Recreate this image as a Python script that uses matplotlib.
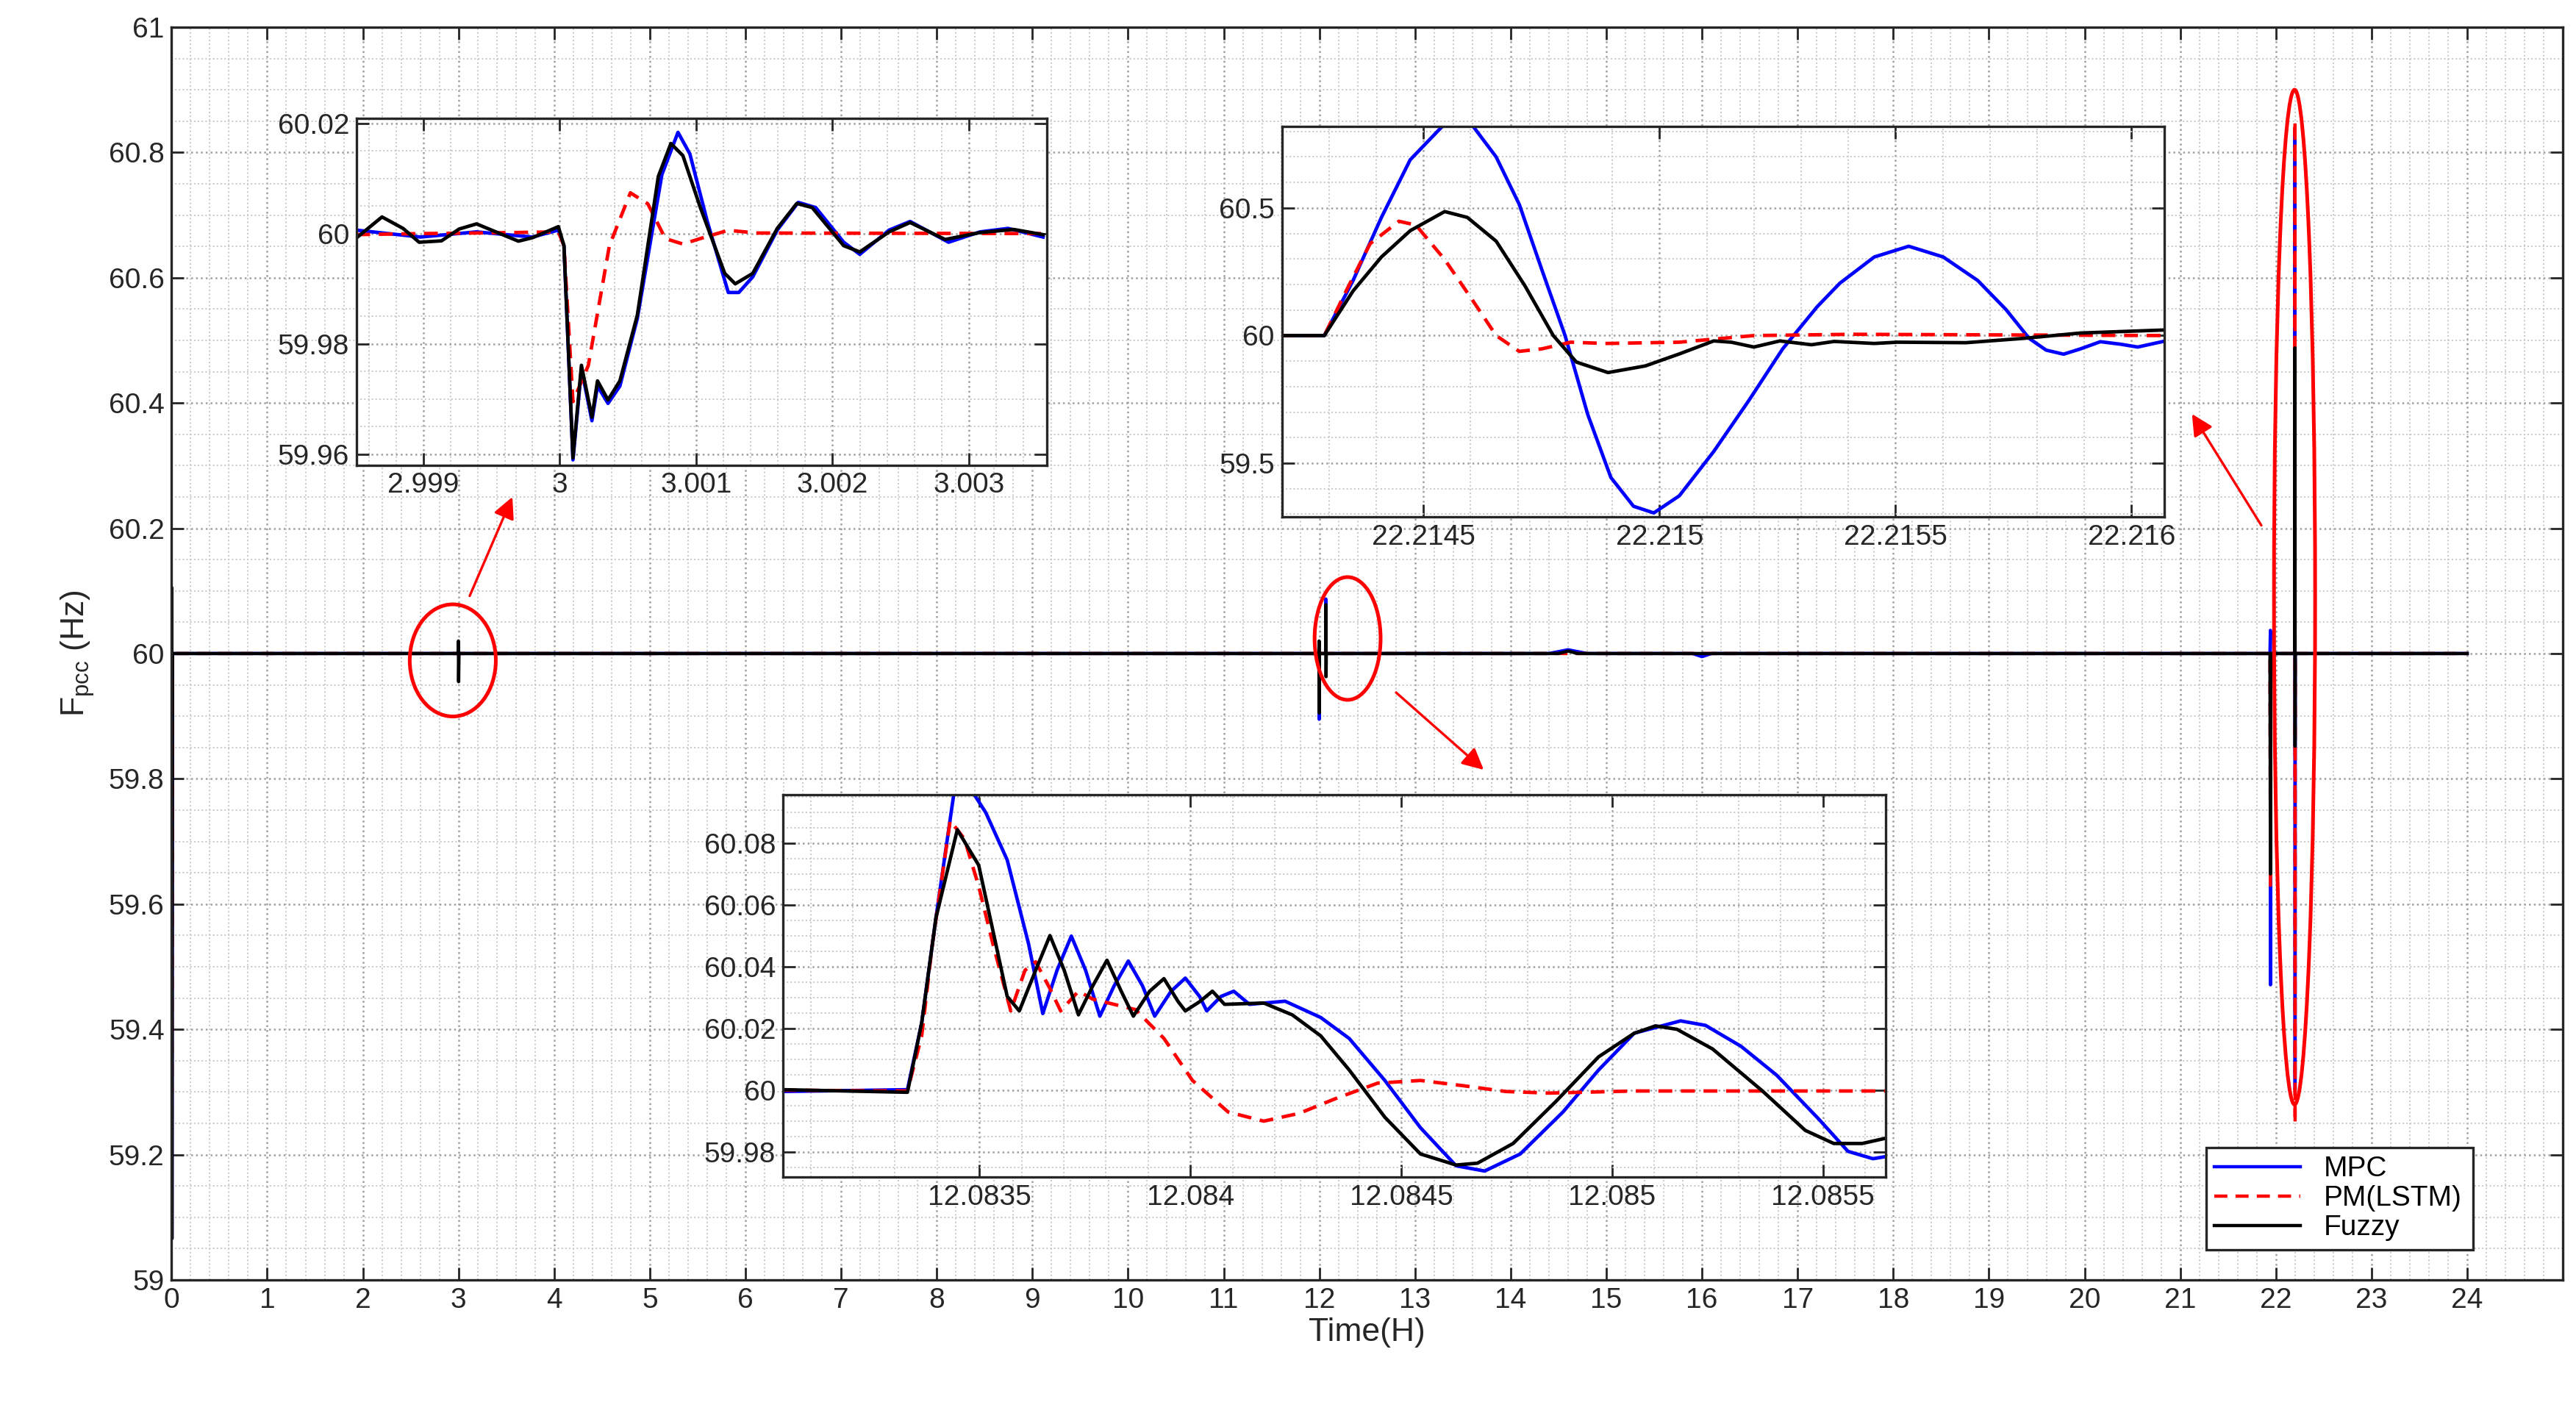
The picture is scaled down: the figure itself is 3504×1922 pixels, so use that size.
import numpy as np
import matplotlib
matplotlib.use("Agg")
import matplotlib.pyplot as plt
from matplotlib.patches import Ellipse
from matplotlib.ticker import AutoMinorLocator

plt.rcParams['font.family'] = ['Liberation Sans', 'DejaVu Sans']
plt.rcParams['mathtext.default'] = 'regular'

# ---------------------------------------------------------------------------
# Data
# ---------------------------------------------------------------------------

# main trace, 0..24 h
t_mpc   = [0.0, 0.002, 0.004, 0.01, 2.99, 3.0, 3.01, 11.995, 11.998, 12.0, 12.065, 12.068, 12.07,
           14.4, 14.6, 14.8, 15.9, 16.0, 16.1, 21.938, 21.9425, 21.943, 21.946, 22.198, 22.1995,
           22.2005, 22.202, 24.0]
v_mpc   = [60.0, 60.105, 59.066, 60.0, 60.0, 60.003, 60.0, 60.0, 59.895, 60.0, 60.0, 60.087, 60.0,
           60.0, 60.006, 60.0, 60.0, 59.995, 60.0, 60.0, 60.037, 59.471, 60.0, 60.0, 60.835, 59.303,
           60.0, 60.0]

t_pm    = [0.0, 0.002, 0.004, 0.01, 11.995, 11.998, 12.0, 21.938, 21.943, 21.946, 22.198, 22.1995,
           22.2005, 22.202, 24.0]
v_pm    = [60.0, 60.06, 59.3, 60.0, 60.0, 59.93, 60.0, 60.0, 59.63, 60.0, 60.0, 60.85, 59.25, 60.0, 60.0]

t_fuzzy = [0.0, 0.002, 0.004, 0.01, 2.995, 2.999, 3.001, 3.005, 11.995, 11.997, 11.999, 12.0,
           12.066, 12.068, 12.07, 12.072, 14.5, 14.6, 14.7, 21.938, 21.943, 21.946, 22.198, 22.1995,
           22.2005, 22.202, 24.0]
v_fuzzy = [60.0, 60.105, 59.066, 60.0, 60.0, 60.02, 59.955, 60.0, 60.0, 60.02, 59.905, 60.0,
           60.0, 60.078, 59.963, 60.0, 60.0, 60.004, 60.0, 60.0, 59.648, 60.0, 60.0, 60.488, 59.852,
           60.0, 60.0]

# inset 1: event near t = 3 h
t1_mpc = [2.998508, 2.998979, 2.999390, 2.999800, 2.999990, 3.000031, 3.000097, 3.000159, 3.000236,
          3.000277, 3.000354, 3.000441, 3.000569, 3.000749, 3.000867, 3.000954, 3.001082, 3.001236,
          3.001313, 3.001415, 3.001595, 3.001749, 3.001877, 3.002082, 3.002200, 3.002415, 3.002569,
          3.002851, 3.003082, 3.003287, 3.003544]
v1_mpc = [60.00063, 59.99937, 60.00031, 59.99937, 60.00063, 59.9978, 59.95893, 59.97547, 59.96604,
          59.97233, 59.96918, 59.97233, 59.98459, 60.01069, 60.01837, 60.01447, 60.00220, 59.98931,
          59.98931, 59.99214, 60.00063, 60.00566, 60.00472, 59.99843, 59.99623, 60.00063, 60.00220,
          59.99843, 60.00031, 60.00094, 59.99937]
t1_pm = [2.998508, 2.998979, 2.999492, 2.999990, 3.000031, 3.000097, 3.000210, 3.000364, 3.000518,
         3.000646, 3.000774, 3.000903, 3.001031, 3.001236, 3.001441, 3.003544]
v1_pm = [59.99981, 60.0, 60.00013, 60.00031, 59.9978, 59.9695, 59.9761, 59.9978, 60.0074,
         60.0054, 59.9991, 59.9981, 59.9991, 60.0006, 60.0001, 60.0]
t1_fuzzy = [2.998508, 2.998697, 2.998851, 2.998969, 2.999133, 2.999262, 2.999390, 2.999697,
            2.999800, 2.999990, 3.000031, 3.000097, 3.000159, 3.000236, 3.000277, 3.000354,
            3.000441, 3.000569, 3.000723, 3.000815, 3.000903, 3.001031, 3.001210, 3.001287,
            3.001415, 3.001595, 3.001738, 3.001851, 3.002082, 3.002200, 3.002415, 3.002569,
            3.002826, 3.003082, 3.003328, 3.003544]
v1_fuzzy = [59.99918, 60.00302, 60.00094, 59.99843, 59.99868, 60.00082, 60.00176, 59.99862,
            59.99925, 60.00126, 59.9978, 59.95931, 59.97610, 59.96667, 59.97327, 59.96981,
            59.97327, 59.98522, 60.01038, 60.01635, 60.01415, 60.00472, 59.99277, 59.99088,
            59.99277, 60.00094, 60.00547, 60.00472, 59.99780, 59.99667, 60.00031, 60.00201,
            59.99893, 60.00019, 60.00075, 59.99981]

# inset 2: event near t = 22.2145 h
t2_mpc = [22.214199, 22.214290, 22.214351, 22.214411, 22.214472, 22.214539, 22.214572, 22.214606,
          22.214654, 22.214703, 22.214751, 22.214800, 22.214848, 22.214897, 22.214945, 22.214988,
          22.215042, 22.215115, 22.215188, 22.215261, 22.215334, 22.215382, 22.215455, 22.215528,
          22.215601, 22.215674, 22.215734, 22.215783, 22.215819, 22.215856, 22.215892, 22.215934,
          22.215977, 22.216013, 22.216072]
v2_mpc = [60.0, 60.0, 60.216, 60.463, 60.689, 60.818, 60.865, 60.818, 60.700, 60.514, 60.257, 60.0,
          59.691, 59.444, 59.331, 59.305, 59.372, 59.546, 59.742, 59.948, 60.113, 60.205, 60.308,
          60.350, 60.308, 60.216, 60.102, 59.989, 59.943, 59.927, 59.948, 59.976, 59.966, 59.955, 59.979]
t2_pm = [22.214199, 22.214290, 22.214339, 22.214387, 22.214448, 22.214484, 22.214545, 22.214606,
         22.214654, 22.214703, 22.214751, 22.214812, 22.214885, 22.215042, 22.215200, 22.215407, 22.216072]
v2_pm = [60.0, 60.0, 60.185, 60.360, 60.448, 60.433, 60.298, 60.133, 60.0, 59.938, 59.948, 59.974,
         59.969, 59.974, 60.0, 60.005, 60.0]
t2_fuzzy = [22.214199, 22.214290, 22.214351, 22.214411, 22.214472, 22.214545, 22.214593, 22.214654,
            22.214715, 22.214775, 22.214824, 22.214891, 22.214970, 22.215042, 22.215115, 22.215152,
            22.215200, 22.215255, 22.215322, 22.215370, 22.215455, 22.215504, 22.215649, 22.215771,
            22.215892, 22.216072]
v2_fuzzy = [60.0, 60.0, 60.175, 60.308, 60.411, 60.486, 60.463, 60.370, 60.195, 60.0, 59.896, 59.855,
            59.881, 59.928, 59.979, 59.974, 59.955, 59.979, 59.964, 59.977, 59.969, 59.974, 59.972,
            59.989, 60.010, 60.022]

# inset 3: event near t = 12.0835 h, time offset in 1e-6 h, deviation in mHz
t3_ref = 12.0835
dt3_mpc = [-466.2, -170.6, -136.8, -103.0, -60.8, -27.0, 15.2, 65.9, 116.6, 150.3, 184.1, 217.9,
           251.7, 285.5, 319.3, 353.0, 386.8, 415.5, 454.4, 488.2, 522.0, 538.9, 572.6, 603.0,
           640.2, 724.7, 809.1, 876.7, 961.2, 1045.6, 1130.1, 1197.6, 1282.1, 1383.5, 1467.9,
           1552.4, 1662.2, 1721.3, 1805.8, 1890.2, 1991.6, 2059.1, 2118.3, 2148.7]
dv3_mpc = [-0.43, 0.17, 21.87, 55.91, 95.9, 99.0, 89.96, 74.64, 47.40, 24.85, 38.89, 49.96,
           38.89, 24.0, 33.79, 41.87, 33.79, 24.0, 32.09, 36.34, 30.38, 25.70, 30.38, 32.09,
           27.83, 28.85, 23.57, 16.77, 3.15, -12.17, -24.51, -26.21, -20.68, -7.06, 6.55,
           18.47, 22.47, 21.02, 14.21, 4.85, -9.62, -19.83, -22.21, -21.53]
dt3_pm = [-466.2, -170.6, -136.8, -111.5, -69.3, -35.5, -1.7, 32.1, 74.3, 108.1, 133.4, 167.2,
          192.6, 234.8, 268.6, 319.3, 369.9, 437.5, 505.1, 589.5, 674.0, 758.5, 842.9, 944.3,
          1045.6, 1147.0, 1248.3, 1349.7, 1552.4, 2148.7]
dv3_pm = [0.0, -0.26, 17.62, 47.40, 87.40, 81.45, 66.13, 47.40, 25.70, 38.89, 41.62, 32.94,
          25.70, 32.09, 29.53, 27.83, 26.13, 16.77, 3.15, -7.06, -10.04, -7.49, -2.81, 2.30,
          3.15, 1.45, -0.43, -0.94, -0.26, -0.26]
dt3_fuzzy = [-466.2, -170.6, -136.8, -103.0, -52.4, -1.7, 32.1, 65.9, 94.6, 133.4, 167.2, 201.0,
             234.8, 268.6, 302.4, 336.2, 364.9, 403.7, 437.5, 471.3, 488.2, 522.0, 552.4, 581.1,
             674.0, 741.6, 809.1, 876.7, 961.2, 1045.6, 1130.1, 1180.8, 1265.2, 1366.6, 1467.9,
             1552.4, 1603.1, 1653.7, 1738.2, 1856.4, 1957.8, 2025.4, 2092.9, 2148.7]
dv3_fuzzy = [0.17, -0.68, 21.87, 55.91, 84.43, 72.94, 51.66, 30.38, 25.70, 38.89, 50.13, 38.89,
             24.43, 33.79, 42.13, 32.09, 24.0, 32.09, 36.17, 28.68, 25.70, 28.68, 32.09, 27.83,
             28.26, 24.43, 17.62, 6.55, -8.77, -20.68, -24.26, -23.66, -17.28, -3.66, 10.81,
             18.47, 20.85, 19.74, 13.36, -0.26, -13.02, -17.28, -17.28, -15.57]

labels = ['MPC', 'PM(LSTM)', 'Fuzzy']

FS = 14

# ---------------------------------------------------------------------------
# Styling helpers
# ---------------------------------------------------------------------------

def style_axes(ax, xminor, yminor, fs=FS):
    ax.xaxis.set_minor_locator(AutoMinorLocator(xminor))
    ax.yaxis.set_minor_locator(AutoMinorLocator(yminor))
    ax.grid(True, which='major', linestyle=':', color='#a0a0a0', linewidth=0.9)
    ax.grid(True, which='minor', linestyle=':', color='#c8c8c8', linewidth=0.7)
    ax.tick_params(which='both', direction='in', top=True, right=True, labelsize=fs,
                   colors='#262626', width=1.0)
    ax.tick_params(which='major', length=6)
    ax.tick_params(which='minor', length=0)
    for s in ax.spines.values():
        s.set_linewidth(1.2)
        s.set_color('#262626')


def draw_three(ax, tm, vm, tp, vp, tf, vf, lw=1.5):
    ax.plot(tm, vm, color='#0000ff', lw=lw, label=labels[0])
    ax.plot(tp, vp, color='#ff0000', lw=lw, ls=(0, (4, 2.5)), label=labels[1])
    ax.plot(tf, vf, color='black', lw=lw, label=labels[2])


fig = plt.figure(figsize=(17.52, 9.61), dpi=200)

# ---------------------------------------------------------------------------
# Main axes
# ---------------------------------------------------------------------------
ax = fig.add_axes([0.0666, 0.0942, 0.9283, 0.8866])
draw_three(ax, t_mpc, v_mpc, t_pm, v_pm, t_fuzzy, v_fuzzy, lw=1.6)
ax.set_xlim(0, 25)
ax.set_ylim(59, 61)
ax.set_xticks(np.arange(0, 25, 1))
style_axes(ax, 5, 4)
ax.set_yticks(np.arange(59, 61.01, 0.2))
ax.set_yticklabels(['59', '59.2', '59.4', '59.6', '59.8', '60', '60.2', '60.4', '60.6', '60.8', '61'])
ax.set_xlabel('Time(H)', fontsize=16, color='#262626', labelpad=2)
ax.set_ylabel(r'F$_{pcc}$ (Hz)', fontsize=16, color='#262626', labelpad=6)

leg = ax.legend(loc='lower left', bbox_to_anchor=(0.8508, 0.0241, 0.1116, 0.115), mode='expand',
                fontsize=FS, frameon=True, fancybox=False, framealpha=1, edgecolor='#262626',
                borderaxespad=0, handlelength=3.0, labelspacing=0.1, borderpad=0.3)
leg.get_frame().set_linewidth(1.2)

# ellipses and arrows
for (cx, cy, w, h) in [(2.94, 59.989, 0.9, 0.179), (12.295, 60.024, 0.69, 0.196),
                       (22.195, 60.09, 0.43, 1.62)]:
    ax.add_patch(Ellipse((cx, cy), w, h, fill=False, edgecolor='#ff0000', lw=1.8, zorder=5))

for (x0, y0, x1, y1) in [(3.10, 60.086, 3.58, 60.256), (12.77, 59.942, 13.75, 59.81),
                         (21.87, 60.199, 21.10, 60.388)]:
    ax.annotate('', xy=(x1, y1), xytext=(x0, y0),
                arrowprops=dict(arrowstyle='-|>', color='#ff0000', lw=1.2,
                                mutation_scale=22), zorder=5)

# ---------------------------------------------------------------------------
# Inset 1
# ---------------------------------------------------------------------------
ax1 = fig.add_axes([0.1384, 0.6709, 0.2679, 0.2453])
draw_three(ax1, t1_mpc, v1_mpc, t1_pm, v1_pm, t1_fuzzy, v1_fuzzy, lw=1.7)
ax1.set_xlim(2.99851, 3.00357)
ax1.set_ylim(59.958, 60.0209)
ax1.set_xticks([2.999, 3.0, 3.001, 3.002, 3.003])
ax1.set_xticklabels(['2.999', '3', '3.001', '3.002', '3.003'])
ax1.set_yticks([59.96, 59.98, 60.0, 60.02])
ax1.set_yticklabels(['59.96', '59.98', '60', '60.02'])
style_axes(ax1, 5, 4)

# ---------------------------------------------------------------------------
# Inset 2
# ---------------------------------------------------------------------------
ax2 = fig.add_axes([0.4976, 0.6343, 0.3427, 0.2763])
draw_three(ax2, t2_mpc, v2_mpc, t2_pm, v2_pm, t2_fuzzy, v2_fuzzy, lw=1.7)
ax2.set_xlim(22.21420, 22.21607)
ax2.set_ylim(59.29, 60.82)
ax2.set_xticks([22.2145, 22.215, 22.2155, 22.216])
ax2.set_xticklabels(['22.2145', '22.215', '22.2155', '22.216'])
ax2.set_yticks([59.5, 60.0, 60.5])
ax2.set_yticklabels(['59.5', '60', '60.5'])
style_axes(ax2, 5, 5)

# ---------------------------------------------------------------------------
# Inset 3
# ---------------------------------------------------------------------------
t3_mpc = [t3_ref + d * 1e-6 for d in dt3_mpc]
v3_mpc = [60 + d * 1e-3 for d in dv3_mpc]
t3_pm = [t3_ref + d * 1e-6 for d in dt3_pm]
v3_pm = [60 + d * 1e-3 for d in dv3_pm]
t3_fuzzy = [t3_ref + d * 1e-6 for d in dt3_fuzzy]
v3_fuzzy = [60 + d * 1e-3 for d in dv3_fuzzy]

ax3 = fig.add_axes([0.3039, 0.1669, 0.4282, 0.2709])
draw_three(ax3, t3_mpc, v3_mpc, t3_pm, v3_pm, t3_fuzzy, v3_fuzzy, lw=1.7)
ax3.set_xlim(12.083034, 12.085649)
ax3.set_ylim(59.9718, 60.0959)
ax3.set_xticks([12.0835, 12.084, 12.0845, 12.085, 12.0855])
ax3.set_xticklabels(['12.0835', '12.084', '12.0845', '12.085', '12.0855'])
ax3.set_yticks([59.98, 60.0, 60.02, 60.04, 60.06, 60.08])
ax3.set_yticklabels(['59.98', '60', '60.02', '60.04', '60.06', '60.08'])
style_axes(ax3, 5, 4)

fig.savefig('out.png', dpi=200)
